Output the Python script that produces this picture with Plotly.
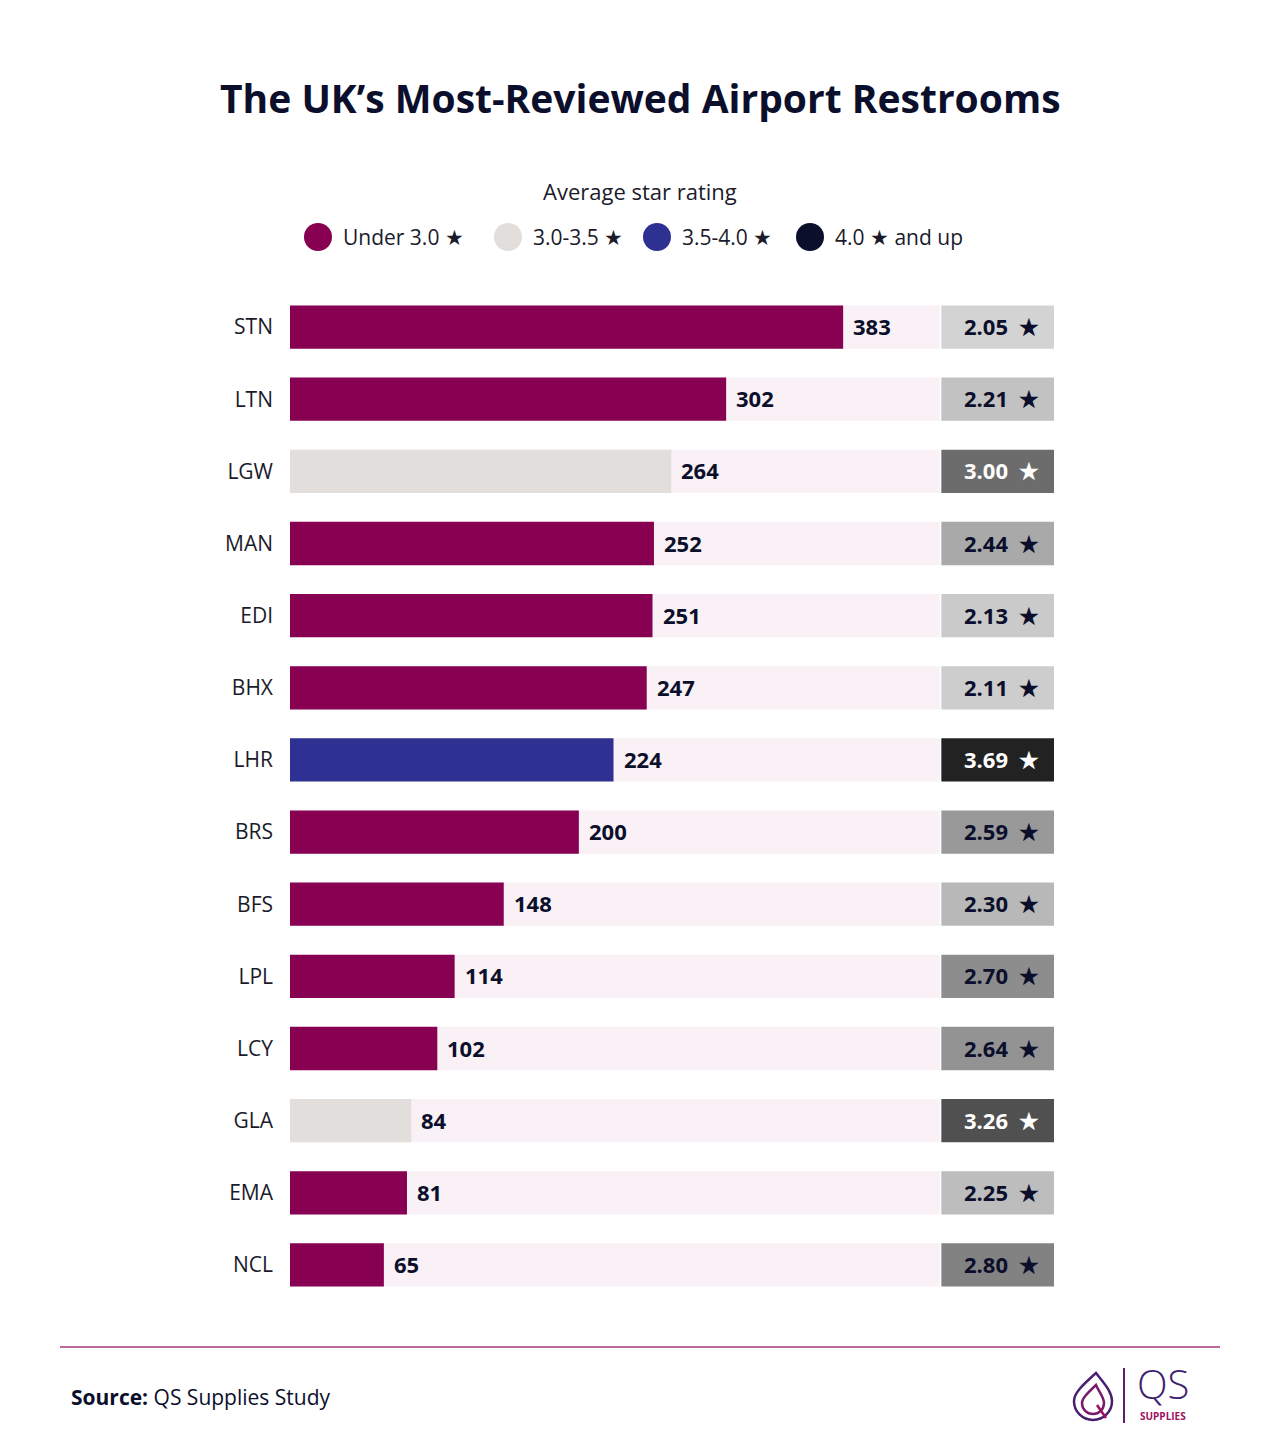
import plotly.graph_objects as go

# ---------------- data ----------------
airports = ["STN", "LTN", "LGW", "MAN", "EDI", "BHX", "LHR", "BRS", "BFS", "LPL", "LCY", "GLA", "EMA", "NCL"]
reviews = [383, 302, 264, 252, 251, 247, 224, 200, 148, 114, 102, 84, 81, 65]
ratings = [2.05, 2.21, 3.00, 2.44, 2.13, 2.11, 3.69, 2.59, 2.30, 2.70, 2.64, 3.26, 2.25, 2.80]
legend_labels = ["Under 3.0 ★", "3.0-3.5 ★", "3.5-4.0 ★", "4.0 ★ and up"]

# ---------------- style ----------------
W, H = 1280, 1445
FONT = "Open Sans"
NAVY = "#0b0f2b"
TEXT = "#1b1b2b"
CAT_COLORS = ["#870052", "#e2dedb", "#2e3192", "#0b0f2b"]
TRACK = "#f9f1f5"
TRACK_END = 450
BOX_START = 451
BOX_END = 529


def cat_color(r):
    if r < 3.0:
        return CAT_COLORS[0]
    if r < 3.5:
        return CAT_COLORS[1]
    if r < 4.0:
        return CAT_COLORS[2]
    return CAT_COLORS[3]


def box_grey(r):
    v = int(round(211 - (r - 2.05) * 108))
    v = max(20, min(230, v))
    return f"rgb({v},{v},{v})"


def px(x):
    return x / W


def py(y):
    return 1 - y / H


fig = go.Figure()

# background track
fig.add_trace(go.Bar(
    y=airports, x=[TRACK_END] * len(airports), orientation="h",
    marker=dict(color=TRACK, line=dict(width=0)), width=0.6,
    hoverinfo="skip", showlegend=False))

# rating boxes
fig.add_trace(go.Bar(
    y=airports, x=[BOX_END - BOX_START] * len(airports), base=[BOX_START] * len(airports),
    orientation="h",
    marker=dict(color=[box_grey(r) for r in ratings], line=dict(width=0)), width=0.6,
    hoverinfo="skip", showlegend=False))

# value bars
fig.add_trace(go.Bar(
    y=airports, x=reviews, orientation="h",
    marker=dict(color=[cat_color(r) for r in ratings], line=dict(width=0)), width=0.6,
    showlegend=False))

annotations = []
for a, v, r in zip(airports, reviews, ratings):
    annotations.append(dict(
        x=v, y=a, xref="x", yref="y", text=f"<b>{v}</b>", showarrow=False,
        xanchor="left", xshift=8, yshift=1, font=dict(family=FONT, size=22, color=NAVY, weight=800)))
    tc = "white" if r >= 2.95 else NAVY
    annotations.append(dict(
        x=(BOX_START + BOX_END) / 2, y=a, xref="x", yref="y", text=f"<b>{r:.2f}</b>  ★",
        showarrow=False, xanchor="center", xshift=4, yshift=1,
        font=dict(family=FONT, size=22, color=tc, weight=800)))

# title
annotations.append(dict(
    x=0.5, y=py(97), xref="paper", yref="paper", text="<b>The UK’s Most-Reviewed Airport Restrooms</b>",
    showarrow=False, xanchor="center", yanchor="middle",
    font=dict(family=FONT, size=39, color=NAVY, weight=800)))

# legend title
annotations.append(dict(
    x=0.5, y=py(191), xref="paper", yref="paper", text="Average star rating",
    showarrow=False, xanchor="center", yanchor="middle",
    font=dict(family=FONT, size=22, color=TEXT)))

shapes = []
legend_cx = [318, 508, 657, 810]
for cx, col, lab in zip(legend_cx, CAT_COLORS, legend_labels):
    shapes.append(dict(
        type="circle", xref="paper", yref="paper",
        x0=px(cx - 14), x1=px(cx + 14), y0=py(237 + 14), y1=py(237 - 14),
        fillcolor=col, line=dict(width=0)))
    annotations.append(dict(
        x=px(cx + 23), y=py(237), xref="paper", yref="paper", text=lab,
        showarrow=False, xanchor="left", yanchor="middle",
        font=dict(family=FONT, size=21, color=TEXT)))

# footer line
shapes.append(dict(type="line", xref="paper", yref="paper",
                   x0=px(60), x1=px(1220), y0=py(1347), y1=py(1347),
                   line=dict(color="#a8377a", width=1.5)))

annotations.append(dict(
    x=px(69), y=py(1397), xref="paper", yref="paper",
    text="<b>Source:</b> QS Supplies Study", showarrow=False,
    xanchor="left", yanchor="middle", font=dict(family=FONT, size=21, color=NAVY)))


# logo
def path_from(points_cmds):
    out = []
    for cmd, pts in points_cmds:
        coords = " ".join(f"{px(x):.5f},{py(y):.5f}" for x, y in pts)
        out.append(f"{cmd}{coords}")
    return " ".join(out) + " Z"


def drop(cx, cy, r, tip):
    return path_from([
        ("M", [(cx + 3, cy - tip)]),
        ("C", [(cx - r * 0.6, cy - r * 0.8), (cx - r, cy - r * 0.4), (cx - r, cy)]),
        ("C", [(cx - r, cy + r * 0.56), (cx - r * 0.56, cy + r), (cx, cy + r)]),
        ("C", [(cx + r * 0.56, cy + r), (cx + r, cy + r * 0.56), (cx + r, cy)]),
        ("C", [(cx + r, cy - r * 0.5), (cx + r * 0.6, cy - r * 0.9), (cx + 3, cy - tip)]),
    ])


shapes.append(dict(type="path", xref="paper", yref="paper", path=drop(1093, 1401, 19, 28),
                   line=dict(color="#4a1f70", width=2.5)))
shapes.append(dict(type="path", xref="paper", yref="paper", path=drop(1093, 1403, 11, 18),
                   line=dict(color="#7a1a6a", width=2.5)))
shapes.append(dict(type="line", xref="paper", yref="paper",
                   x0=px(1097), x1=px(1106), y0=py(1405), y1=py(1418),
                   line=dict(color="#9a1060", width=2.5)))
shapes.append(dict(type="line", xref="paper", yref="paper",
                   x0=px(1124), x1=px(1124), y0=py(1368), y1=py(1423),
                   line=dict(color="#5a1f6e", width=2)))
annotations.append(dict(
    x=px(1163), y=py(1412), xref="paper", yref="paper", text="QS", showarrow=False,
    xanchor="center", yanchor="bottom", borderpad=0,
    font=dict(family=FONT, size=40, color="#3d2370", weight=300)))
annotations.append(dict(
    x=px(1163), y=py(1408), xref="paper", yref="paper", text="<b>SUPPLIES</b>", showarrow=False,
    xanchor="center", yanchor="top", borderpad=0,
    font=dict(family=FONT, size=10, color="#a0105e")))

fig.update_layout(
    width=W, height=H,
    margin=dict(l=0, r=0, t=0, b=0),
    paper_bgcolor="white", plot_bgcolor="white",
    barmode="overlay", bargap=0.4,
    showlegend=False,
    xaxis=dict(domain=[px(290), px(1054)], range=[0, BOX_END], visible=False, fixedrange=True),
    yaxis=dict(domain=[py(1301), py(291)], autorange="reversed", showgrid=False, zeroline=False,
               showline=False, ticks="", ticklabelstandoff=16,
               tickfont=dict(family=FONT, size=21, color=TEXT), fixedrange=True),
    annotations=annotations, shapes=shapes,
    font=dict(family=FONT),
)

fig.write_html("out.html", config={"displayModeBar": False})
